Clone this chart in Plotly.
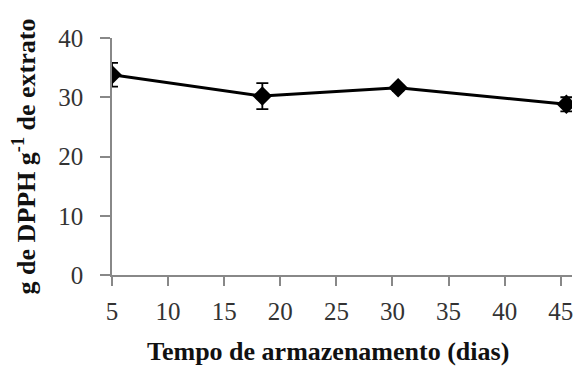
import plotly.graph_objects as go

dias = [5, 18.4, 30.5, 45.5]
valores = [33.8, 30.2, 31.6, 28.8]
erros = [2.0, 2.2, 0.5, 1.2]
x_ticks = [5, 10, 15, 20, 25, 30, 35, 40, 45]
y_ticks = [0, 10, 20, 30, 40]

fig = go.Figure()
fig.add_trace(go.Scatter(
    x=dias, y=valores,
    mode="lines+markers",
    line=dict(color="black", width=3),
    marker=dict(symbol="diamond", size=15, color="black"),
    error_y=dict(type="data", array=erros, visible=True, color="black", thickness=1.8, width=6),
    showlegend=False,
))

font_family = "Liberation Serif, Times New Roman, serif"
fig.update_layout(
    width=573, height=362,
    margin=dict(l=104, r=9, t=30, b=95, autoexpand=False),
    paper_bgcolor="white", plot_bgcolor="white",
    font=dict(family=font_family, size=25, color="#333"),
)
fig.update_xaxes(
    range=[5, 46], tickvals=x_ticks, showgrid=False, zeroline=False,
    showline=True, linecolor="#888", linewidth=1.5,
    ticks="outside", ticklen=9, tickcolor="#888", tickwidth=1.5,
    ticklabelstandoff=4,
)
fig.update_yaxes(
    range=[0, 40], tickvals=y_ticks, showgrid=False, zeroline=False,
    showline=True, linecolor="#888", linewidth=1.5,
    ticks="outside", ticklen=10, tickcolor="#888", tickwidth=1.5,
    ticklabelstandoff=12,
    title=dict(text="<b>g de DPPH g<sup>-1</sup> de extrato</b>", font=dict(size=26, color="#111"), standoff=16),
)
fig.add_annotation(
    text="<b>Tempo de armazenamento (dias)</b>",
    xref="paper", yref="paper", x=0.4696, y=-0.3245,
    xanchor="center", yanchor="middle", showarrow=False,
    font=dict(size=26, color="#111", family=font_family),
)

fig.write_html("out.html")
